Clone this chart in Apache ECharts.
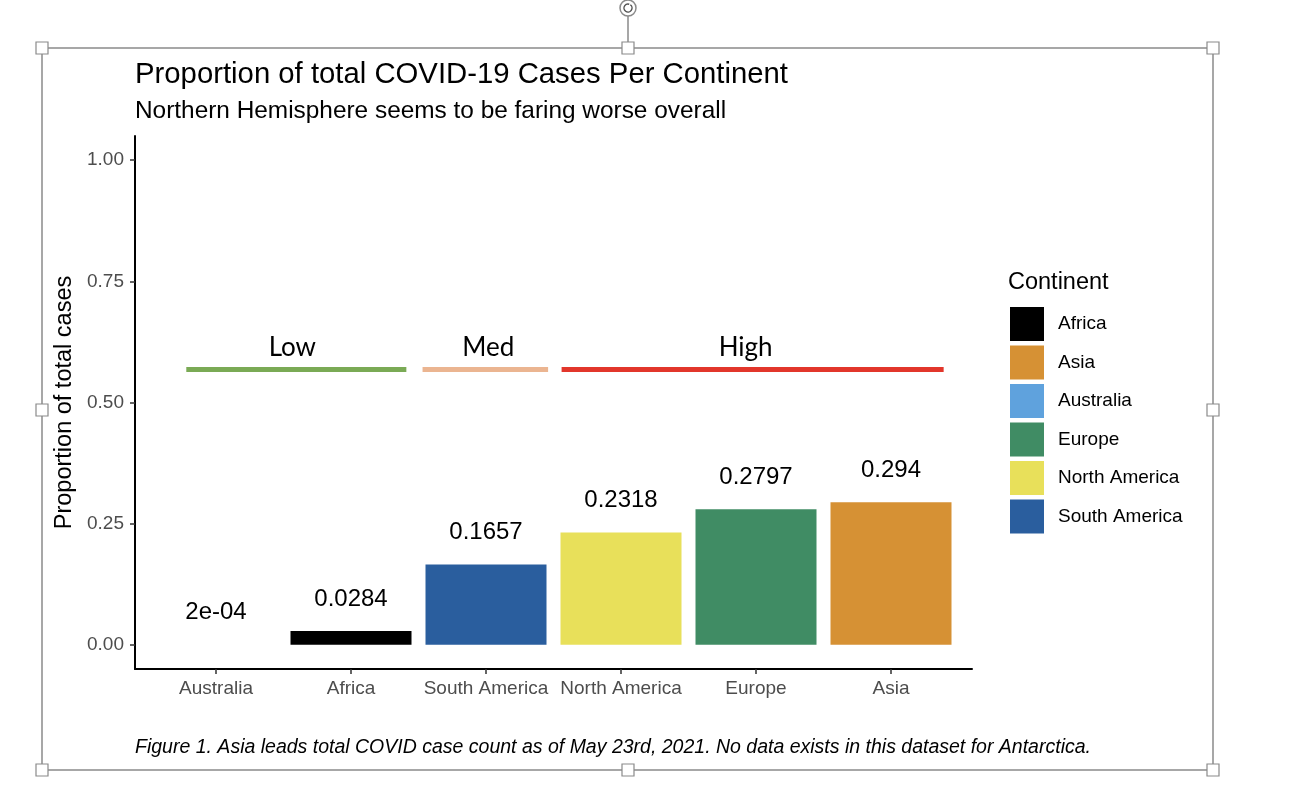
<!DOCTYPE html>
<html>
<head>
<meta charset="utf-8">
<script src="https://cdn.jsdelivr.net/npm/echarts@6/dist/echarts.min.js"></script>
<style>html,body{margin:0;padding:0;background:#fff}#c{width:1310px;height:804px}</style>
</head>
<body>
<div id="c"></div>
<script>
// ---- data ----
const categories = ['Australia', 'Africa', 'South America', 'North America', 'Europe', 'Asia'];
const proportions = [0.0002, 0.0284, 0.1657, 0.2318, 0.2797, 0.294];
const valueLabels = ['2e-04', '0.0284', '0.1657', '0.2318', '0.2797', '0.294'];
const legendOrder = ['Africa', 'Asia', 'Australia', 'Europe', 'North America', 'South America'];
const yTicks = [0, 0.25, 0.5, 0.75, 1.0];
const groupNames = ['Low', 'Med', 'High'];
const groupStart = [0.78, 2.53, 3.56];
const groupEnd = [2.41, 3.46, 6.39];
const groupLevel = 0.569;

// ---- styles ----
const continentColors = {
  'Africa': '#000000',
  'Asia': '#d69134',
  'Australia': '#5fa2dd',
  'Europe': '#408c64',
  'North America': '#e8e05a',
  'South America': '#2a5e9e'
};
const groupColors = ['#7aaa55', '#ebb591', '#e2362b'];
const groupLabelShift = [-4, 3, -7];
const FONT = '"Liberation Sans", Arial, Helvetica, sans-serif';

const chart = echarts.init(document.getElementById('c'), null, {renderer: 'canvas'});

const barSeries = legendOrder.map(name => {
  const idx = categories.indexOf(name);
  return {
    name: name,
    type: 'bar',
    stack: 'all',
    barWidth: 121,
    itemStyle: {color: continentColors[name]},
    data: [[idx + 1, proportions[idx]]],
    label: {
      show: true,
      position: 'top',
      distance: 20,
      formatter: () => valueLabels[idx],
      fontFamily: FONT,
      fontSize: 24,
      color: '#000'
    },
    silent: true
  };
});

const groupSeries = {
  name: 'groups',
  type: 'line',
  data: [],
  silent: true,
  markLine: {
    silent: true,
    symbol: ['none', 'none'],
    animation: false,
    data: groupNames.map((g, i) => [
      {coord: [groupStart[i], groupLevel], lineStyle: {color: groupColors[i], width: 5, type: 'solid', cap: 'butt'},
       label: {show: true, position: 'middle', formatter: g, distance: 8, offset: [groupLabelShift[i], 0],
               fontFamily: 'Lato, "Open Sans", sans-serif', fontSize: 26, color: '#000'}},
      {coord: [groupEnd[i], groupLevel]}
    ])
  }
};

const handleStyle = {fill: '#fff', stroke: '#8a8a8a', lineWidth: 1.2};
const handlePts = [[42,48],[628,48],[1213,48],[42,410],[1213,410],[42,770],[628,770],[1213,770]];
const graphics = [
  {type: 'rect', shape: {x: 42, y: 48, width: 1171, height: 722}, style: {fill: 'none', stroke: '#8a8a8a', lineWidth: 1.5}, z: 0, silent: true},
  {type: 'line', shape: {x1: 628, y1: 16, x2: 628, y2: 42}, style: {stroke: '#8a8a8a', lineWidth: 1.5}, silent: true},
  {type: 'circle', shape: {cx: 628, cy: 8, r: 8}, style: {fill: '#fff', stroke: '#8a8a8a', lineWidth: 1.5}, silent: true},
  {type: 'arc', shape: {cx: 628, cy: 8, r: 4, startAngle: -Math.PI * 0.3, endAngle: Math.PI * 1.6}, style: {fill: 'none', stroke: '#555', lineWidth: 1.5}, silent: true}
].concat(handlePts.map(p => ({
  type: 'rect', shape: {x: p[0] - 6, y: p[1] - 6, width: 12, height: 12}, style: handleStyle, silent: true, z: 10
})));

chart.setOption({
  animation: false,
  backgroundColor: '#fff',
  textStyle: {fontFamily: FONT},
  title: [
    {text: 'Proportion of total COVID-19 Cases Per Continent', left: 135, top: 60, padding: 0,
     textStyle: {fontFamily: FONT, fontSize: 29.3, fontWeight: 'normal', color: '#000'}},
    {text: 'Northern Hemisphere seems to be faring worse overall', left: 135, top: 99, padding: 0,
     textStyle: {fontFamily: FONT, fontSize: 24.4, fontWeight: 'normal', color: '#000'}},
    {text: 'Continent', left: 1008, top: 271, padding: 0,
     textStyle: {fontFamily: FONT, fontSize: 23.5, fontWeight: 'normal', color: '#000'}},
    {text: 'Figure 1. Asia leads total COVID case count as of May 23rd, 2021. No data exists in this dataset for Antarctica.',
     left: 135, top: 738, padding: 0,
     textStyle: {fontFamily: FONT, fontSize: 19.5, fontStyle: 'italic', fontWeight: 'normal', color: '#000'}}
  ],
  legend: {
    data: legendOrder,
    orient: 'vertical',
    left: 1010,
    top: 307,
    padding: 0,
    itemWidth: 34,
    itemHeight: 34,
    itemGap: 4.5,
    icon: 'rect',
    selectedMode: false,
    textStyle: {fontFamily: FONT, fontSize: 19, color: '#000', padding: [0, 0, 0, 9]}
  },
  grid: {left: 135, right: 338, top: 136, bottom: 135, containLabel: false},
  xAxis: {
    type: 'value',
    min: 0.4,
    max: 6.6,
    splitLine: {show: false},
    axisLine: {show: true, onZero: false, lineStyle: {color: '#000', width: 2}},
    axisTick: {show: true, length: 5, customValues: [1, 2, 3, 4, 5, 6], lineStyle: {color: '#333', width: 1.5}},
    axisLabel: {
      customValues: [1, 2, 3, 4, 5, 6],
      formatter: v => categories[Math.round(v) - 1],
      margin: 10,
      fontFamily: FONT,
      fontSize: 19,
      color: '#4d4d4d'
    }
  },
  yAxis: {
    type: 'value',
    min: -0.05,
    max: 1.05,
    name: 'Proportion of total cases',
    nameLocation: 'middle',
    nameGap: 55,
    nameTextStyle: {fontFamily: FONT, fontSize: 23.5, color: '#000'},
    splitLine: {show: false},
    axisLine: {show: true, onZero: false, lineStyle: {color: '#000', width: 2}},
    axisTick: {show: true, length: 5, customValues: yTicks, lineStyle: {color: '#333', width: 1.5}},
    axisLabel: {
      customValues: yTicks,
      formatter: v => v.toFixed(2),
      margin: 11,
      fontFamily: FONT,
      fontSize: 19,
      color: '#4d4d4d'
    }
  },
  graphic: graphics,
  series: barSeries.concat([groupSeries])
});
</script>
</body>
</html>
